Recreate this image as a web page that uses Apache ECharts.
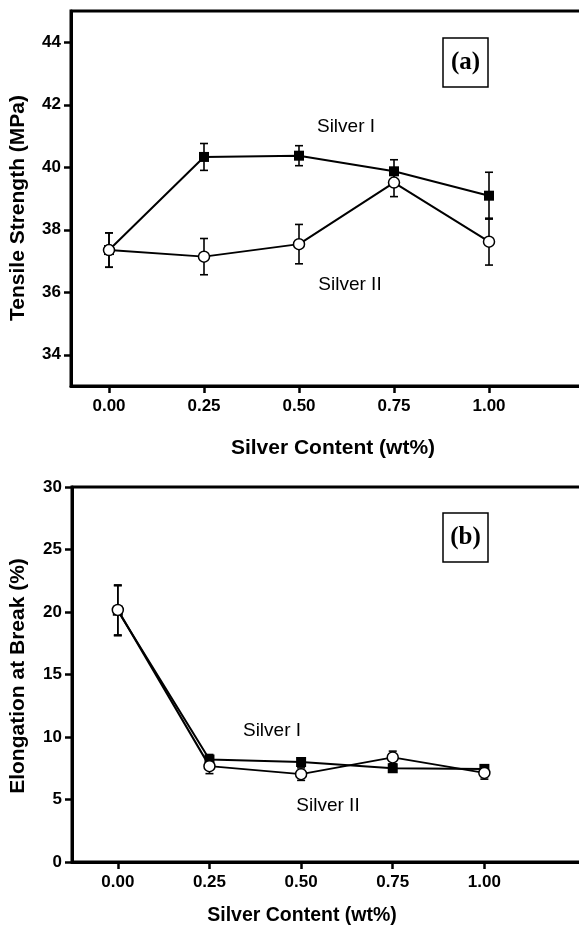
<!DOCTYPE html>
<html>
<head>
<meta charset="utf-8">
<script src="https://cdn.jsdelivr.net/npm/echarts@6/dist/echarts.min.js"></script>
<style>
  html, body { margin: 0; padding: 0; background: #fff; }
  #chart { width: 579px; height: 926px; }
</style>
</head>
<body>
<div id="chart"></div>
<script>
// --- data ---
const silverContent = [0, 0.25, 0.5, 0.75, 1.0];
const xTicks = [0, 0.25, 0.5, 0.75, 1.0];

// (a) tensile strength, MPa
const strengthSilverI = [37.35, 40.33, 40.37, 39.87, 39.09];
const strengthSilverIErr = [0.55, 0.43, 0.32, 0.37, 0.75];
const strengthSilverII = [37.35, 37.14, 37.54, 39.51, 37.62];
const strengthSilverIIErr = [0.55, 0.58, 0.63, 0.45, 0.75];
const strengthTicks = [34, 36, 38, 40, 42, 44];

// (b) elongation at break, %
const elongSilverI = [20.1, 8.2, 8.0, 7.5, 7.45];
const elongSilverIErr = [2.0, 0.4, 0.3, 0.3, 0.3];
const elongSilverII = [20.17, 7.67, 7.03, 8.37, 7.13];
const elongSilverIIErr = [2.0, 0.6, 0.5, 0.5, 0.5];
const elongTicks = [0, 5, 10, 15, 20, 25, 30];

const FONT = 'Liberation Sans, Arial, sans-serif';

const chart = echarts.init(document.getElementById('chart'));

function pairs(xs, ys) {
  return xs.map((x, i) => [x, ys[i]]);
}

function errData(xs, ys, es) {
  return xs.map((x, i) => [x, ys[i] - es[i], ys[i] + es[i]]);
}

// error bars with caps
function errSeries(idx, data) {
  return {
    type: 'custom',
    xAxisIndex: idx,
    yAxisIndex: idx,
    z: 1,
    silent: true,
    data: data,
    renderItem: function (params, api) {
      const lo = api.coord([api.value(0), api.value(1)]);
      const hi = api.coord([api.value(0), api.value(2)]);
      const cap = 4;
      const st = { stroke: '#000', lineWidth: 1.6 };
      return {
        type: 'group',
        children: [
          { type: 'line', shape: { x1: lo[0], y1: lo[1], x2: hi[0], y2: hi[1] }, style: st },
          { type: 'line', shape: { x1: lo[0] - cap, y1: lo[1], x2: lo[0] + cap, y2: lo[1] }, style: st },
          { type: 'line', shape: { x1: hi[0] - cap, y1: hi[1], x2: hi[0] + cap, y2: hi[1] }, style: st }
        ]
      };
    }
  };
}

function squareSeries(idx, data) {
  return {
    type: 'line',
    xAxisIndex: idx,
    yAxisIndex: idx,
    z: 3,
    data: data,
    symbol: 'rect',
    symbolSize: 10,
    lineStyle: { color: '#000', width: 2 },
    itemStyle: { color: '#000', borderColor: '#000', borderWidth: 0 }
  };
}

function circleSeries(idx, data) {
  return {
    type: 'line',
    xAxisIndex: idx,
    yAxisIndex: idx,
    z: 4,
    data: data,
    symbol: 'circle',
    symbolSize: 11,
    showAllSymbol: true,
    lineStyle: { color: '#000', width: 2 },
    itemStyle: { color: '#fff', borderColor: '#000', borderWidth: 1.5 }
  };
}

const tickLabel = {
  color: '#000',
  fontFamily: FONT,
  fontWeight: 'bold',
  fontSize: 17
};

function xAxisCfg(idx, min, max) {
  return {
    type: 'value',
    gridIndex: idx,
    min: min,
    max: max,
    axisLine: { onZero: false, lineStyle: { color: '#000', width: 3 } },
    axisTick: { customValues: xTicks, length: 7, lineStyle: { color: '#000', width: 2.5 } },
    axisLabel: Object.assign({ customValues: xTicks, margin: 12, formatter: v => v.toFixed(2) }, tickLabel),
    splitLine: { show: false }
  };
}

function yAxisCfg(idx, min, max, ticks) {
  return {
    type: 'value',
    gridIndex: idx,
    min: min,
    max: max,
    axisLine: { onZero: false, lineStyle: { color: '#000', width: 3 } },
    axisTick: { customValues: ticks, length: 7, lineStyle: { color: '#000', width: 2.5 } },
    axisLabel: Object.assign({ customValues: ticks, margin: 10 }, tickLabel),
    splitLine: { show: false }
  };
}

function txt(x, y, text, font, rotation) {
  return {
    type: 'text',
    x: x,
    y: y,
    rotation: rotation || 0,
    style: { text: text, font: font, fill: '#000', align: 'center', verticalAlign: 'middle' }
  };
}

function panelTag(x, y, label) {
  return {
    type: 'group',
    children: [
      { type: 'rect', shape: { x: x, y: y, width: 45, height: 49 }, style: { fill: '#fff', stroke: '#000', lineWidth: 1.5 } },
      txt(x + 22.5, y + 25, label, 'bold 25px "Liberation Serif", "Times New Roman", serif')
    ]
  };
}

const option = {
  backgroundColor: '#fff',
  animation: false,
  grid: [
    // plot frames run past the right edge of the picture
    { left: 71, top: 11, height: 375, width: 532, outerBoundsMode: 'none', containLabel: false,
      show: true, borderColor: '#000', borderWidth: 3, backgroundColor: 'transparent' },
    { left: 72, top: 487, height: 375, width: 559, outerBoundsMode: 'none', containLabel: false,
      show: true, borderColor: '#000', borderWidth: 3, backgroundColor: 'transparent' }
  ],
  xAxis: [
    xAxisCfg(0, -0.1, 1.3),
    xAxisCfg(1, -0.125, 1.4)
  ],
  yAxis: [
    yAxisCfg(0, 33, 45, strengthTicks),
    yAxisCfg(1, 0, 30, elongTicks)
  ],
  series: [
    errSeries(0, errData(silverContent, strengthSilverI, strengthSilverIErr)),
    errSeries(0, errData(silverContent, strengthSilverII, strengthSilverIIErr)),
    squareSeries(0, pairs(silverContent, strengthSilverI)),
    circleSeries(0, pairs(silverContent, strengthSilverII)),
    errSeries(1, errData(silverContent, elongSilverI, elongSilverIErr)),
    errSeries(1, errData(silverContent, elongSilverII, elongSilverIIErr)),
    squareSeries(1, pairs(silverContent, elongSilverI)),
    circleSeries(1, pairs(silverContent, elongSilverII))
  ],
  graphic: [
    txt(18, 208, 'Tensile Strength (MPa)', 'bold 21px ' + FONT, Math.PI / 2),
    txt(333, 448, 'Silver Content (wt%)', 'bold 21px ' + FONT),
    txt(18, 676, 'Elongation at Break (%)', 'bold 21px ' + FONT, Math.PI / 2),
    txt(302, 916, 'Silver Content (wt%)', 'bold 19.5px ' + FONT),
    panelTag(443, 38, '(a)'),
    panelTag(443, 513, '(b)'),
    txt(346, 127, 'Silver I', '19px ' + FONT),
    txt(350, 285, 'Silver II', '19px ' + FONT),
    txt(272, 731, 'Silver I', '19px ' + FONT),
    txt(328, 806, 'Silver II', '19px ' + FONT)
  ]
};

chart.setOption(option);
</script>
</body>
</html>
